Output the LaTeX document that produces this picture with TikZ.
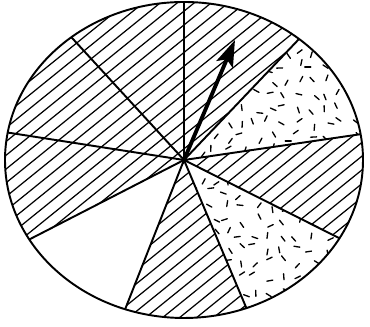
\documentclass[tikz,border=0pt]{standalone}
\usetikzlibrary{arrows.meta}

\begin{document}
\begin{tikzpicture}[x=0.02cm,y=0.02cm,
    rim/.style={line width=1.1pt},
    spoke/.style={line width=1.1pt},
    hatch/.style={line width=0.7pt},
    fleck/.style={line width=0.75pt,line cap=round}]
  \useasboundingbox (0,0) rectangle (370,327);
  \coordinate (hub) at (184,167);
  % spoke ends on the rim
  \foreach \a [count=\i] in {90,50,9.4,-29.7,-69.6,-109.2,-149.8,-190,-231}
    \path (hub) ++(\a:179 and 158) coordinate (s\i);
  % hatched sectors
  \foreach \a/\b in {90/50,9.4/-29.7,-69.6/-109.2,-149.8/-270} {
    \begin{scope}
      \clip (hub) -- ++(\a:179 and 158) arc[start angle=\a,end angle=\b,x radius=179,y radius=158] -- cycle;
      \foreach \k in {0,...,47} \draw[hatch] (-410+17*\k,0) -- ++(39:560);
    \end{scope}
  }
  % speckled sectors
  \pgfmathsetseed{3}
  \foreach \a/\b in {50/9.4,-29.7/-69.6} {
    \begin{scope}
      \clip (hub) -- ++(\a:179 and 158) arc[start angle=\a,end angle=\b,x radius=179,y radius=158] -- cycle;
      \foreach \gx in {186,200,...,364}
        \foreach \gy in {8,22,...,300} {
          \pgfmathsetmacro\ang{random(0,179)}
          \draw[fleck] (\gx+5*rand,\gy+5*rand) ++(\ang:-3) -- ++(\ang:6);
        }
    \end{scope}
  }
  \foreach \i in {1,...,9} \draw[spoke] (hub) -- (s\i);
  \draw[rim] (hub) ellipse[x radius=179,y radius=158];
  % pointer
  \coordinate (tip) at (235,287);
  \draw[line width=2.2pt,-{Stealth[length=15pt,width=10pt,inset=3pt]}] (hub) -- (tip);
\end{tikzpicture}
\end{document}
